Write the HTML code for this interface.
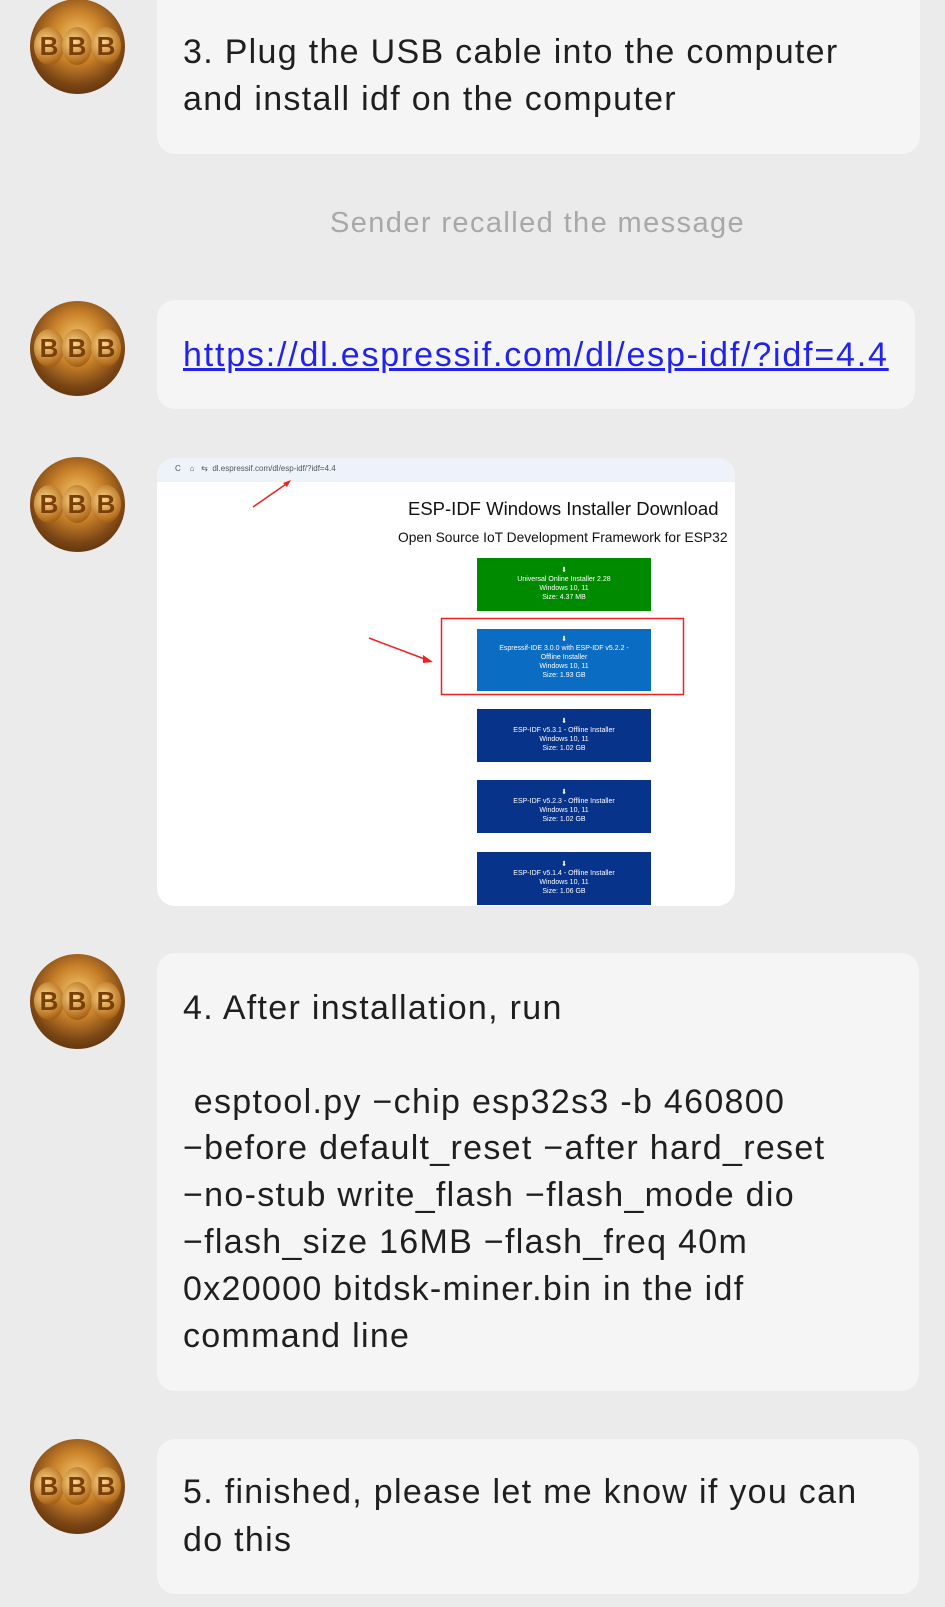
<!DOCTYPE html>
<html><head><meta charset="utf-8"><style>
*{margin:0;padding:0;box-sizing:border-box}
body{width:945px;height:1607px;background:#ebebeb;position:relative;overflow:hidden;font-family:"Liberation Sans",sans-serif;color:#1f1f1f}
.av{position:absolute;left:30px;width:95px;height:95px;border-radius:50%;background:radial-gradient(circle at 50% 40%,#f6c86a 0%,#c9812a 35%,#7a4514 65%,#3a1e08 100%);overflow:hidden}
.av span{position:absolute;top:28px;width:30px;height:38px;border-radius:50%;background:radial-gradient(circle at 40% 40%,#ffd98a,#b06a1a 70%,#6b3a0c);color:#7a3e08;font:bold 26px/38px "Liberation Sans",sans-serif;text-align:center}
.b{position:absolute;left:157px;background:#f5f5f5;border-radius:18px}
.t{position:absolute;left:183px;font-size:34px;letter-spacing:1.3px;white-space:nowrap;line-height:40px}
.abs{position:absolute}
.btn{position:absolute;left:320px;width:174px;color:#fff;font-size:7px;line-height:9px;text-align:center;padding-top:8px}
</style></head><body>
<div class="av" style="top:-1px"><span style="left:4px">B</span><span style="left:32px">B</span><span style="left:61px">B</span></div>
<div class="av" style="top:301px"><span style="left:4px">B</span><span style="left:32px">B</span><span style="left:61px">B</span></div>
<div class="av" style="top:457px"><span style="left:4px">B</span><span style="left:32px">B</span><span style="left:61px">B</span></div>
<div class="av" style="top:954px"><span style="left:4px">B</span><span style="left:32px">B</span><span style="left:61px">B</span></div>
<div class="av" style="top:1439px"><span style="left:4px">B</span><span style="left:32px">B</span><span style="left:61px">B</span></div>

<div class="b" style="top:-18px;width:763px;height:172px"></div>
<div class="t" style="top:32px">3. Plug the USB cable into the computer</div>
<div class="t" style="top:79px">and install idf on the computer</div>

<div class="abs" style="left:330px;top:207px;font-size:29px;letter-spacing:1.4px;color:#a8a8a8;white-space:nowrap">Sender recalled the message</div>

<div class="b" style="top:300px;width:758px;height:109px"></div>
<div class="t" style="top:335px;color:#2222ee;text-decoration:underline;font-size:34px;letter-spacing:1.8px">https://dl.espressif.com/dl/esp-idf/?idf=4.4</div>

<div class="b" style="top:458px;width:578px;height:448px;background:#fff;overflow:hidden">
 <div class="abs" style="left:0;top:0;width:578px;height:24px;background:#eef2f9"></div>
 <div class="abs" style="left:18px;top:6px;font-size:8px;color:#555">C&nbsp;&nbsp;&nbsp;&nbsp;⌂&nbsp;&nbsp;&nbsp;⇆&nbsp;&nbsp;dl.espressif.com/dl/esp-idf/?idf=4.4</div>
 <svg class="abs" style="left:0;top:0" width="578" height="448">
  <line x1="96" y1="49" x2="132" y2="24" stroke="#e22" stroke-width="1.5"/>
  <polygon points="134,22 126,25 130,29" fill="#e22"/>
  <line x1="212" y1="180" x2="273" y2="203" stroke="#e22" stroke-width="1.5"/>
  <polygon points="276,204 266,197 266,205" fill="#e22"/>
  <rect x="284.5" y="160.5" width="242" height="76" fill="none" stroke="#e22" stroke-width="1.5"/>
 </svg>
 <div class="abs" style="left:251px;top:40px;font-size:18.5px;color:#111;white-space:nowrap">ESP-IDF Windows Installer Download</div>
 <div class="abs" style="left:241px;top:72px;font-size:13.8px;color:#111;white-space:nowrap">Open Source IoT Development Framework for ESP32</div>
 <div class="btn" style="top:100px;height:53px;background:#008a00">⬇<br>Universal Online Installer 2.28<br>Windows 10, 11<br>Size: 4.37 MB</div>
 <div class="btn" style="top:171px;height:62px;background:#0b6cc4;padding-top:6px">⬇<br>Espressif-IDE 3.0.0 with ESP-IDF v5.2.2 -<br>Offline Installer<br>Windows 10, 11<br>Size: 1.93 GB</div>
 <div class="btn" style="top:251px;height:53px;background:#07338a">⬇<br>ESP-IDF v5.3.1 - Offline Installer<br>Windows 10, 11<br>Size: 1.02 GB</div>
 <div class="btn" style="top:322px;height:53px;background:#07338a">⬇<br>ESP-IDF v5.2.3 - Offline Installer<br>Windows 10, 11<br>Size: 1.02 GB</div>
 <div class="btn" style="top:394px;height:53px;background:#07338a">⬇<br>ESP-IDF v5.1.4 - Offline Installer<br>Windows 10, 11<br>Size: 1.06 GB</div>
</div>

<div class="b" style="top:953px;width:762px;height:438px"></div>
<div class="t" style="top:988px">4. After installation, run</div>
<div class="t" style="top:1082px">&nbsp;esptool.py −chip esp32s3 -b 460800</div>
<div class="t" style="top:1128px">−before default_reset −after hard_reset</div>
<div class="t" style="top:1175px">−no-stub write_flash −flash_mode dio</div>
<div class="t" style="top:1222px">−flash_size 16MB −flash_freq 40m</div>
<div class="t" style="top:1269px">0x20000 bitdsk-miner.bin in the idf</div>
<div class="t" style="top:1316px">command line</div>

<div class="b" style="top:1439px;width:762px;height:155px"></div>
<div class="t" style="top:1472px">5. finished, please let me know if you can</div>
<div class="t" style="top:1520px">do this</div>
</body></html>
